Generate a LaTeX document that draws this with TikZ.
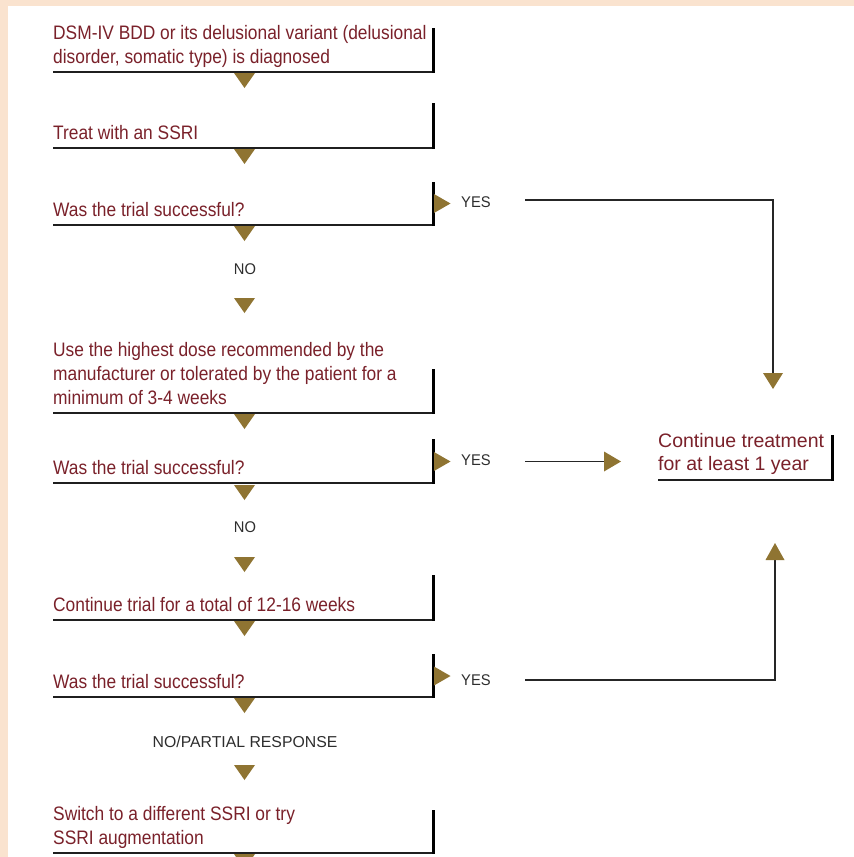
\documentclass[tikz,border=0pt]{standalone}
\usepackage{fontspec}
\usetikzlibrary{calc}
\setmainfont{Liberation Sans}
\newfontfamily\boxfont{Liberation Sans}[FakeStretch=0.89]
\newfontfamily\lblfont{Liberation Sans}[FakeStretch=0.95]
\definecolor{txtred}{RGB}{122,33,42}
\definecolor{gold}{RGB}{143,116,50}
\definecolor{peach}{RGB}{250,227,207}
\definecolor{lblgray}{RGB}{45,45,45}
\newcommand\boxstrut{\rule{0pt}{16pt}}
\newcommand\boxrule[2]{%
  \draw[uline] (53,#1) -- (434.5,#1);
  \draw[barline] (433,#2) -- (433,{#1+0.85});}
\newcommand\tdown[2]{\fill[gold] ({#1-10.5},#2) -- ({#1+10.5},#2) -- (#1,{#2+15}) -- cycle;}
\newcommand\tright[2]{\fill[gold] (#1,{#2-9.5}) -- (#1,{#2+9.5}) -- ({#1+16.5},#2) -- cycle;}
\begin{document}
\begin{tikzpicture}[x=1pt,y=-1pt,
  boxtext/.style={anchor=north west, inner sep=0pt, align=left, text=txtred,
    font=\boxfont\fontsize{19.5}{24}\selectfont},
  conttext/.style={anchor=north west, inner sep=0pt, align=left, text=txtred,
    font=\fontsize{19.5}{23}\selectfont},
  lbl/.style={anchor=base, inner sep=0pt, text=lblgray, font=\lblfont\fontsize{15.5}{18}\selectfont},
  uline/.style={draw=black!88, line width=1.6pt},
  barline/.style={draw=black, line width=3pt},
  conn/.style={draw=black!85, line width=1.2pt}
]
\useasboundingbox (0,0) rectangle (854,857);
\clip (0,0) rectangle (854,857);
% background
\fill[peach] (0,0) rectangle (854,857);
\fill[white] (8,6) rectangle (854,857);

% boxes
\node[boxtext] (b1) at (53,23) {\boxstrut DSM-IV BDD or its delusional variant (delusional\\disorder, somatic type) is diagnosed};
\boxrule{72}{28}
\tdown{244.5}{73}

\node[boxtext] (b2) at (53,123) {\boxstrut Treat with an SSRI};
\boxrule{148}{103}
\tdown{244.5}{149}

\node[boxtext] (b3) at (53,200) {\boxstrut Was the trial successful?};
\boxrule{225}{182}
\tdown{244.5}{226}
\tright{434}{203.5}
\node[lbl] (no1) at (245,274.5) {NO};
\tdown{244.5}{298}

\node[boxtext] (b4) at (53,340) {\boxstrut Use the highest dose recommended by the\\manufacturer or tolerated by the patient for a\\minimum of 3-4 weeks};
\boxrule{413}{369}
\tdown{244.5}{414}

\node[boxtext] (b5) at (53,458) {\boxstrut Was the trial successful?};
\boxrule{483}{439}
\tdown{244.5}{485}
\tright{434}{461.5}
\node[lbl] (no2) at (245,532.5) {NO};
\tdown{244.5}{557}

\node[boxtext] (b6) at (53,595) {\boxstrut Continue trial for a total of 12-16 weeks};
\boxrule{620}{575}
\tdown{244.5}{621}

\node[boxtext] (b7) at (53,672) {\boxstrut Was the trial successful?};
\boxrule{697}{654}
\tdown{244.5}{698}
\tright{434}{676}
\node[lbl, font=\fontsize{15.8}{18}\selectfont] (no3) at (245,747) {NO/PARTIAL RESPONSE};
\tdown{244.5}{765}

\node[boxtext] (b8) at (53,804) {\boxstrut Switch to a different SSRI or try\\SSRI augmentation};
\boxrule{853}{810}
\tdown{244.5}{854}

% continue box
\node[conttext] (cont) at (658,431) {\boxstrut Continue treatment\\for at least 1 year};
\draw[uline] (658,480) -- (833.5,480);
\draw[barline] (832,435) -- (832,480.85);

% YES labels
\node[lbl, anchor=base west] (yes1) at (461,207) {YES};
\node[lbl, anchor=base west] (yes2) at (461,465) {YES};
\node[lbl, anchor=base west] (yes3) at (461,685) {YES};

% connectors
\coordinate (y1s) at (525,200);
\coordinate (y1e) at (773,373);
\coordinate (y2s) at (525,461.5);
\coordinate (y2e) at (605,461.5);
\coordinate (y3s) at (525,680);
\coordinate (y3e) at (775,560);
\draw[conn] (y1s) -| (y1e);
\fill[gold] ($(y1e)+(-10,0)$) -- ($(y1e)+(10,0)$) -- ($(y1e)+(0,16)$) -- cycle;
\draw[conn] (y2s) -- (y2e);
\fill[gold] ($(y2e)+(-1,-10)$) -- ($(y2e)+(-1,10)$) -- ($(y2e)+(16,0)$) -- cycle;
\draw[conn] (y3s) -| (y3e);
\fill[gold] ($(y3e)+(-9.5,0)$) -- ($(y3e)+(9.5,0)$) -- ($(y3e)+(0,-17)$) -- cycle;
\end{tikzpicture}
\end{document}
